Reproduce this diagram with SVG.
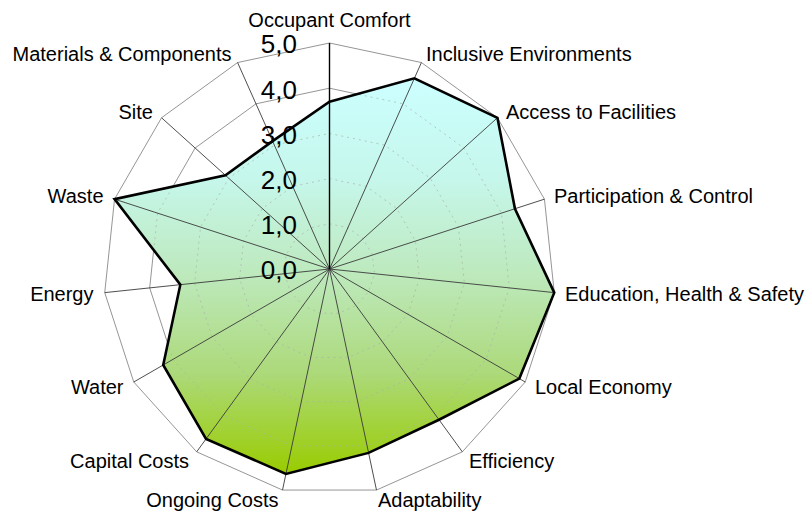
<svg xmlns="http://www.w3.org/2000/svg" width="808" height="515" viewBox="0 0 808 515">
<style>
.ring{fill:none;stroke:#7a7a7a;stroke-width:0.8}
.dring{fill:none;stroke:#a8b4a8;stroke-width:0.7;stroke-dasharray:2 4}
.spoke{stroke:#3a3a3a;stroke-width:0.9}
.lbl{font-family:"Liberation Sans",Arial,sans-serif;font-size:20px;fill:#000}
.val{font-family:"Liberation Sans",Arial,sans-serif;font-size:26px;fill:#000;text-anchor:end}
</style>
<defs>
<linearGradient id="fillGrad" gradientUnits="userSpaceOnUse" x1="0" y1="78" x2="0" y2="474">
<stop offset="0" stop-color="#ccffff"/>
<stop offset="0.25" stop-color="#c6f7ec"/>
<stop offset="0.5" stop-color="#bde9bc"/>
<stop offset="0.75" stop-color="#acd978"/>
<stop offset="1" stop-color="#99cc00"/>
</linearGradient>
<clipPath id="dataClip">
<polygon points="329.5,101.8 414.39,78.34 497.45,117.78 514.96,208.74 554.26,292.62 519.33,378.6 439,419.72 368.59,452.89 285.94,473.92 206.06,438.89 163.22,365 180.32,284.68 114.56,199.16 225.46,175.32 272.56,141.1"/>
</clipPath>
</defs>
<rect width="808" height="515" fill="#fff"/>
<g id="grid">
<polygon class="ring" points="329.5,43 421.42,62.54 497.45,117.78 544.44,199.16 554.26,292.62 525.22,382 462.34,451.84 376.49,490.06 282.51,490.06 196.66,451.84 133.78,382 104.74,292.62 114.56,199.16 161.55,117.78 237.58,62.54"/>
<polygon class="ring" points="329.5,88.2 403.04,103.83 463.86,148.02 501.45,213.13 509.31,287.9 486.08,359.4 435.77,415.27 367.09,445.85 291.91,445.85 223.23,415.27 172.92,359.4 149.69,287.9 157.55,213.13 195.14,148.02 255.96,103.83"/>
<polygon class="ring" points="329.5,133.4 384.65,145.12 430.27,178.27 458.46,227.1 464.36,283.17 446.93,336.8 409.2,378.7 357.69,401.64 301.31,401.64 249.8,378.7 212.07,336.8 194.64,283.17 200.54,227.1 228.73,178.27 274.35,145.12"/>
<polygon class="ring" points="329.5,178.6 366.27,186.42 396.68,208.51 415.48,241.06 419.4,278.45 407.79,314.2 382.64,342.14 348.3,357.42 310.7,357.42 276.36,342.14 251.21,314.2 239.6,278.45 243.52,241.06 262.32,208.51 292.73,186.42"/>
<polygon class="ring" points="329.5,223.8 347.88,227.71 363.09,238.76 372.49,255.03 374.45,273.72 368.64,291.6 356.07,305.57 338.9,313.21 320.1,313.21 302.93,305.57 290.36,291.6 284.55,273.72 286.01,255.03 295.91,238.76 311.12,227.71"/>
</g>
<g id="series-fill">
<polygon fill="url(#fillGrad)" stroke="none" points="329.5,101.8 414.39,78.34 497.45,117.78 514.96,208.74 554.26,292.62 519.33,378.6 439,419.72 368.59,452.89 285.94,473.92 206.06,438.89 163.22,365 180.32,284.68 114.56,199.16 225.46,175.32 272.56,141.1"/>
</g>
<g id="grid-inside" clip-path="url(#dataClip)">
<polygon class="dring" points="329.5,88.2 403.04,103.83 463.86,148.02 501.45,213.13 509.31,287.9 486.08,359.4 435.77,415.27 367.09,445.85 291.91,445.85 223.23,415.27 172.92,359.4 149.69,287.9 157.55,213.13 195.14,148.02 255.96,103.83"/>
<polygon class="dring" points="329.5,133.4 384.65,145.12 430.27,178.27 458.46,227.1 464.36,283.17 446.93,336.8 409.2,378.7 357.69,401.64 301.31,401.64 249.8,378.7 212.07,336.8 194.64,283.17 200.54,227.1 228.73,178.27 274.35,145.12"/>
<polygon class="dring" points="329.5,178.6 366.27,186.42 396.68,208.51 415.48,241.06 419.4,278.45 407.79,314.2 382.64,342.14 348.3,357.42 310.7,357.42 276.36,342.14 251.21,314.2 239.6,278.45 243.52,241.06 262.32,208.51 292.73,186.42"/>
<polygon class="dring" points="329.5,223.8 347.88,227.71 363.09,238.76 372.49,255.03 374.45,273.72 368.64,291.6 356.07,305.57 338.9,313.21 320.1,313.21 302.93,305.57 290.36,291.6 284.55,273.72 286.01,255.03 295.91,238.76 311.12,227.71"/>
</g>
<g id="connectors">
<line class="spoke" x1="329.5" y1="269" x2="421.42" y2="62.54"/>
<line class="spoke" x1="329.5" y1="269" x2="497.45" y2="117.78"/>
<line class="spoke" x1="329.5" y1="269" x2="544.44" y2="199.16"/>
<line class="spoke" x1="329.5" y1="269" x2="554.26" y2="292.62"/>
<line class="spoke" x1="329.5" y1="269" x2="525.22" y2="382"/>
<line class="spoke" x1="329.5" y1="269" x2="462.34" y2="451.84"/>
<line class="spoke" x1="329.5" y1="269" x2="376.49" y2="490.06"/>
<line class="spoke" x1="329.5" y1="269" x2="282.51" y2="490.06"/>
<line class="spoke" x1="329.5" y1="269" x2="196.66" y2="451.84"/>
<line class="spoke" x1="329.5" y1="269" x2="133.78" y2="382"/>
<line class="spoke" x1="329.5" y1="269" x2="104.74" y2="292.62"/>
<line class="spoke" x1="329.5" y1="269" x2="114.56" y2="199.16"/>
<line class="spoke" x1="329.5" y1="269" x2="161.55" y2="117.78"/>
<line class="spoke" x1="329.5" y1="269" x2="237.58" y2="62.54"/>
<line x1="329.5" y1="269" x2="329.5" y2="43" stroke="#000" stroke-width="1.4"/>
</g>
<g id="series-line">
<polygon fill="none" stroke="#000" stroke-width="2.6" stroke-linejoin="miter" points="329.5,101.8 414.39,78.34 497.45,117.78 514.96,208.74 554.26,292.62 519.33,378.6 439,419.72 368.59,452.89 285.94,473.92 206.06,438.89 163.22,365 180.32,284.68 114.56,199.16 225.46,175.32 272.56,141.1"/>
</g>
<g id="value-axis">
<text class="val" x="297" y="53.3">5,0</text>
<text class="val" x="297" y="98.5">4,0</text>
<text class="val" x="297" y="143.7">3,0</text>
<text class="val" x="297" y="188.9">2,0</text>
<text class="val" x="297" y="234.1">1,0</text>
<text class="val" x="297" y="279.3">0,0</text>
</g>
<g id="labels">
<g id="n-occupant"><text class="lbl" x="329.5" y="26.5" text-anchor="middle">Occupant Comfort</text></g>
<g id="n-inclusive"><text class="lbl" x="426" y="60.5">Inclusive Environments</text></g>
<g id="n-access"><text class="lbl" x="506" y="119.3">Access to Facilities</text></g>
<g id="n-participation"><text class="lbl" x="554" y="203.3">Participation &amp; Control</text></g>
<g id="n-education"><text class="lbl" x="565" y="301">Education, Health &amp; Safety</text></g>
<g id="n-local"><text class="lbl" x="535" y="394">Local Economy</text></g>
<g id="n-efficiency"><text class="lbl" x="469" y="467.5">Efficiency</text></g>
<g id="n-adaptability"><text class="lbl" x="378" y="506.5">Adaptability</text></g>
<g id="n-ongoing"><text class="lbl" x="278.5" y="506.5" text-anchor="end">Ongoing Costs</text></g>
<g id="n-capital"><text class="lbl" x="189" y="467.5" text-anchor="end">Capital Costs</text></g>
<g id="n-water"><text class="lbl" x="123.5" y="394" text-anchor="end">Water</text></g>
<g id="n-energy"><text class="lbl" x="93.5" y="301" text-anchor="end">Energy</text></g>
<g id="n-waste"><text class="lbl" x="103.5" y="203.3" text-anchor="end">Waste</text></g>
<g id="n-site"><text class="lbl" x="153" y="119.3" text-anchor="end">Site</text></g>
<g id="n-materials"><text class="lbl" x="231.5" y="60.5" text-anchor="end">Materials &amp; Components</text></g>
</g>
</svg>
